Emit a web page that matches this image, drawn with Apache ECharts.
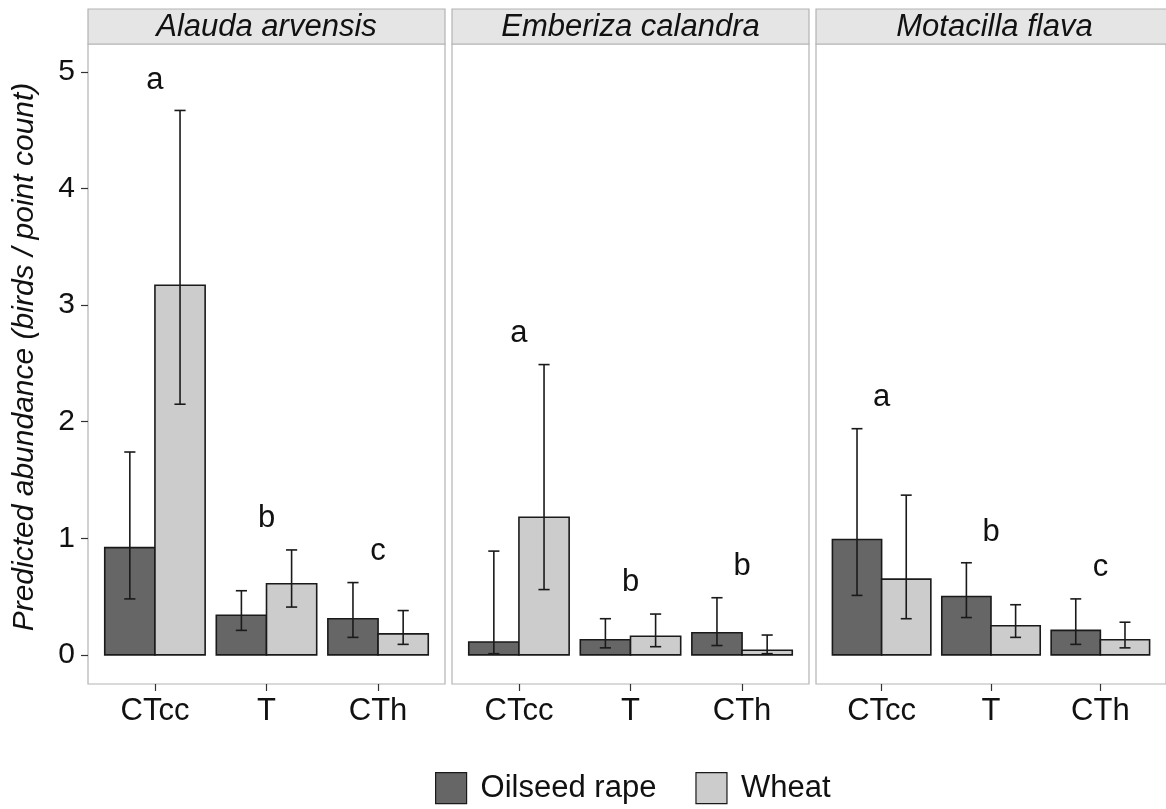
<!DOCTYPE html>
<html>
<head>
<meta charset="utf-8">
<script src="https://cdn.jsdelivr.net/npm/echarts@6/dist/echarts.min.js"></script>
<style>
html,body{margin:0;padding:0;background:#fff;}
#chart{width:1166px;height:809px;}
</style>
</head>
<body>
<div id="chart"></div>
<script>
// ---------------- data ----------------
const speciesNames = ['Alauda arvensis', 'Emberiza calandra', 'Motacilla flava'];
const treatments = ['CTcc', 'T', 'CTh'];
const yTicks = [0, 1, 2, 3, 4, 5];
const seriesNames = ['Oilseed rape', 'Wheat'];
const yTitle = 'Predicted abundance (birds / point count)';

// rows = species (panel), columns = treatments
const rapeMean  = [[0.92, 0.34, 0.31], [0.11, 0.13, 0.19], [0.99, 0.50, 0.21]];
const rapeLower = [[0.48, 0.21, 0.15], [0.01, 0.06, 0.08], [0.51, 0.32, 0.09]];
const rapeUpper = [[1.74, 0.55, 0.62], [0.89, 0.31, 0.49], [1.94, 0.79, 0.48]];
const wheatMean  = [[3.17, 0.61, 0.18], [1.18, 0.16, 0.04], [0.65, 0.25, 0.13]];
const wheatLower = [[2.15, 0.41, 0.09], [0.56, 0.07, 0.01], [0.31, 0.15, 0.06]];
const wheatUpper = [[4.67, 0.90, 0.38], [2.49, 0.35, 0.17], [1.37, 0.43, 0.28]];
const letters = [['a', 'b', 'c'], ['a', 'b', 'b'], ['a', 'b', 'c']];
const letterY = [[4.93, 1.17, 0.89], [2.76, 0.62, 0.76], [2.21, 1.05, 0.75]];

// ---------------- layout / style ----------------
const FONT = 'Liberation Sans';
const panelLeft = [88, 452, 816];
const panelW = 357;
const panelTop = 44;
const panelH = 640;
const stripTop = 9;
const colRape = '#666666';
const colWheat = '#cccccc';
const edge = '#1a1a1a';
const frame = '#b3b3b3';
const BAR_W = 0.45;
const CAP_W = 0.1;
const FS = 31;

const chart = echarts.init(document.getElementById('chart'), null, {renderer: 'canvas'});

const grids = [], xAxes = [], yAxes = [], series = [], graphics = [];

function barRenderer(side, fill) {
  return function (params, api) {
    const x = api.value(0), v = api.value(1), lo = api.value(2), hi = api.value(3);
    const left = side === 0 ? x - BAR_W : x;
    const right = side === 0 ? x : x + BAR_W;
    const mid = (left + right) / 2;
    const tl = api.coord([left, v]);
    const br = api.coord([right, 0]);
    const top = api.coord([mid, hi]);
    const bot = api.coord([mid, lo]);
    const capL1 = api.coord([mid - CAP_W / 2, hi]);
    const capR1 = api.coord([mid + CAP_W / 2, hi]);
    const capL2 = api.coord([mid - CAP_W / 2, lo]);
    const capR2 = api.coord([mid + CAP_W / 2, lo]);
    const lw = {stroke: edge, lineWidth: 1.6};
    return {
      type: 'group',
      children: [
        {type: 'rect', shape: {x: tl[0], y: tl[1], width: br[0] - tl[0], height: br[1] - tl[1]},
         style: {fill: fill, stroke: edge, lineWidth: 1.6}},
        {type: 'line', shape: {x1: top[0], y1: top[1], x2: bot[0], y2: bot[1]}, style: lw},
        {type: 'line', shape: {x1: capL1[0], y1: capL1[1], x2: capR1[0], y2: capR1[1]}, style: lw},
        {type: 'line', shape: {x1: capL2[0], y1: capL2[1], x2: capR2[0], y2: capR2[1]}, style: lw}
      ]
    };
  };
}

for (let p = 0; p < 3; p++) {
  grids.push({left: panelLeft[p], top: panelTop, width: panelW, height: panelH,
              show: true, borderColor: frame, borderWidth: 1.2, backgroundColor: '#fff'});
  xAxes.push({
    gridIndex: p, type: 'value', min: 0.4, max: 3.6, position: 'bottom',
    splitLine: {show: false}, axisLine: {show: false, onZero: false},
    axisTick: {show: true, customValues: [1, 2, 3], length: 7, lineStyle: {color: '#333', width: 1.2}},
    axisLabel: {show: true, customValues: [1, 2, 3], margin: 12,
                formatter: v => treatments[Math.round(v) - 1] || '',
                fontFamily: FONT, fontSize: FS, color: '#111'}
  });
  yAxes.push({
    gridIndex: p, type: 'value', min: -0.25, max: 5.24, position: 'left',
    splitLine: {show: false}, axisLine: {show: false, onZero: false},
    axisTick: {show: p === 0, customValues: yTicks, length: 7, lineStyle: {color: '#333', width: 1.2}},
    axisLabel: {show: p === 0, customValues: yTicks, margin: 13,
                fontFamily: FONT, fontSize: 30, color: '#111'}
  });
  series.push({
    name: seriesNames[0], type: 'custom', xAxisIndex: p, yAxisIndex: p,
    itemStyle: {color: colRape, borderColor: edge, borderWidth: 1.6},
    renderItem: barRenderer(0, colRape), encode: {x: 0, y: 1},
    data: treatments.map((t, i) => [i + 1, rapeMean[p][i], rapeLower[p][i], rapeUpper[p][i]])
  });
  series.push({
    name: seriesNames[1], type: 'custom', xAxisIndex: p, yAxisIndex: p,
    itemStyle: {color: colWheat, borderColor: edge, borderWidth: 1.6},
    renderItem: barRenderer(1, colWheat), encode: {x: 0, y: 1},
    data: treatments.map((t, i) => [i + 1, wheatMean[p][i], wheatLower[p][i], wheatUpper[p][i]])
  });
  series.push({
    name: 'letters' + p, type: 'custom', xAxisIndex: p, yAxisIndex: p,
    renderItem: function (params, api) {
      const pt = api.coord([api.value(0), api.value(1)]);
      return {type: 'text', x: pt[0], y: pt[1],
              style: {text: letters[p][params.dataIndex], fill: '#111', fontSize: FS, fontFamily: FONT,
                      align: 'center', verticalAlign: 'middle'}};
    },
    encode: {x: 0, y: 1},
    data: treatments.map((t, i) => [i + 1, letterY[p][i]])
  });
  graphics.push({type: 'rect', shape: {x: panelLeft[p], y: stripTop, width: panelW, height: panelTop - stripTop},
                 style: {fill: '#e5e5e5', stroke: frame, lineWidth: 1.2}, z: 10});
  graphics.push({type: 'text', x: panelLeft[p] + panelW / 2, y: (stripTop + panelTop) / 2 + 1,
                 style: {text: speciesNames[p], fontFamily: FONT, fontSize: FS, fontStyle: 'italic',
                         fill: '#111', align: 'center', verticalAlign: 'middle'}, z: 11});
}

graphics.push({type: 'text', x: 25, y: 357, rotation: Math.PI / 2,
               style: {text: yTitle, fontFamily: FONT, fontSize: 30, fontStyle: 'italic',
                       fill: '#111', align: 'center', verticalAlign: 'middle'}, z: 11});

chart.setOption({
  animation: false,
  backgroundColor: '#fff',
  grid: grids, xAxis: xAxes, yAxis: yAxes, series: series,
  graphic: graphics,
  legend: {
    left: 435, top: 772, padding: 0, itemWidth: 31, itemHeight: 31, itemGap: 39,
    icon: 'rect',
    textStyle: {fontFamily: FONT, fontSize: FS, color: '#111', padding: [0, 0, 0, 9]},
    data: [
      {name: seriesNames[0], itemStyle: {color: colRape, borderColor: edge, borderWidth: 1.2}},
      {name: seriesNames[1], itemStyle: {color: colWheat, borderColor: edge, borderWidth: 1.2}}
    ]
  }
});
</script>
</body>
</html>
